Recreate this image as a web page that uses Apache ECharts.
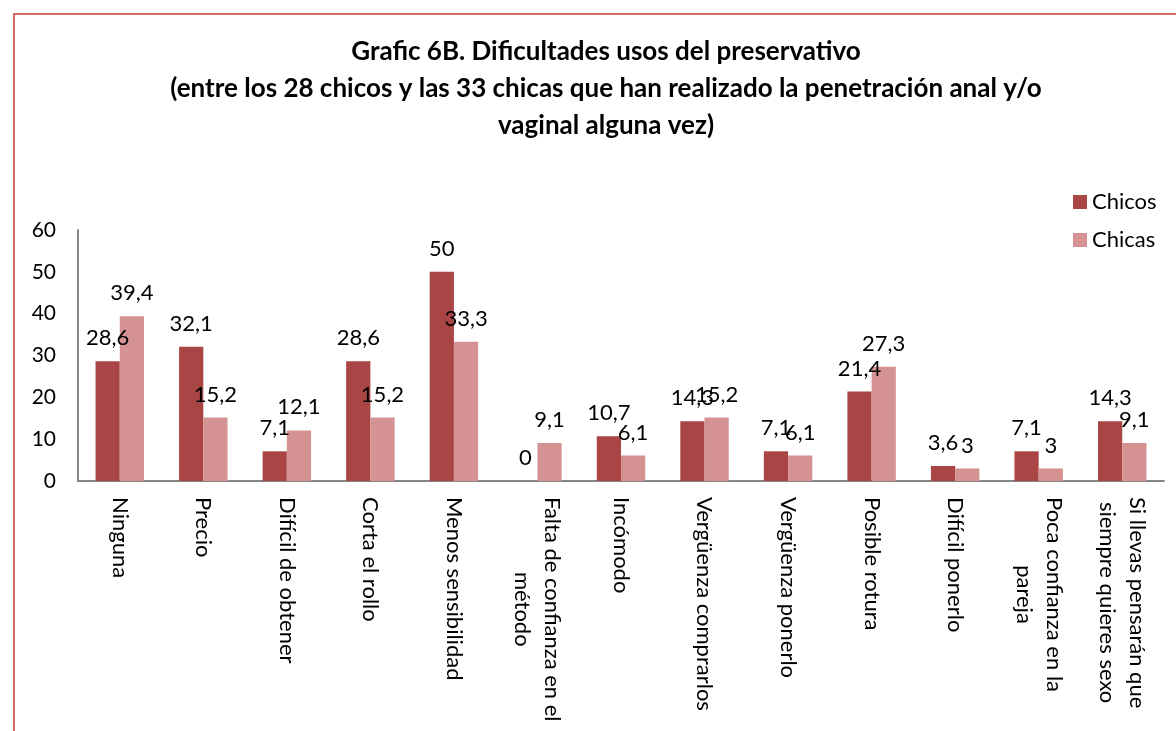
<!DOCTYPE html>
<html>
<head>
<meta charset="utf-8">
<style>
  html, body { margin: 0; padding: 0; background: #fff; }
  #chart { width: 1176px; height: 731px; }
</style>
<script src="https://cdn.jsdelivr.net/npm/echarts@6/dist/echarts.min.js"></script>
</head>
<body>
<div id="chart"></div>
<script>
const categories = [
  "Ninguna",
  "Precio",
  "Difícil de obtener",
  "Corta el rollo",
  "Menos sensibilidad",
  "Falta de confianza en el\nmétodo",
  "Incómodo",
  "Vergüenza comprarlos",
  "Vergüenza ponerlo",
  "Posible rotura",
  "Difícil ponerlo",
  "Poca confianza en la\npareja",
  "Si llevas pensarán que\nsiempre quieres sexo"
];
const chicos = [28.6, 32.1, 7.1, 28.6, 50, 0, 10.7, 14.3, 7.1, 21.4, 3.6, 7.1, 14.3];
const chicas = [39.4, 15.2, 12.1, 15.2, 33.3, 9.1, 6.1, 15.2, 6.1, 27.3, 3, 3, 9.1];
const yTicks = [0, 10, 20, 30, 40, 50, 60];

const FONT = "Lato";

const chart = echarts.init(document.getElementById("chart"));

// valores con coma decimal, como en el original
const commaLabel = p => String(p.value).replace(".", ",");

chart.setOption({
  animation: false,
  textStyle: { fontFamily: FONT },
  title: {
    text: "Grafic 6B. Dificultades usos del preservativo\n(entre los 28 chicos y las 33 chicas que han realizado la penetración anal y/o\nvaginal alguna vez)",
    left: 601,
    top: 28,
    textAlign: "center",
    textStyle: {
      fontFamily: FONT,
      fontWeight: "bold",
      fontSize: 26,
      lineHeight: 37,
      color: "#000"
    }
  },
  legend: {
    orient: "vertical",
    left: 1073,
    top: 191,
    padding: 0,
    itemWidth: 14,
    itemHeight: 14,
    itemGap: 16,
    icon: "rect",
    textStyle: { fontFamily: FONT, fontSize: 22, color: "#000" },
    data: ["Chicos", "Chicas"]
  },
  grid: { left: 78, right: 12, top: 230, bottom: 250 },
  xAxis: {
    type: "category",
    data: categories,
    axisLine: { lineStyle: { color: "#868686", width: 2 } },
    axisTick: { show: false },
    axisLabel: {
      interval: 0,
      rotate: -90,
      margin: 16,
      color: "#000",
      fontFamily: FONT,
      fontSize: 22,
      formatter: v => v.split("\n").map(s => "{c|" + s + "}").join("\n"),
      rich: {
        c: { align: "center", fontFamily: FONT, fontSize: 22, color: "#000", lineHeight: 30 }
      }
    }
  },
  yAxis: {
    type: "value",
    min: yTicks[0],
    max: yTicks[yTicks.length - 1],
    interval: 10,
    axisLine: { show: true, lineStyle: { color: "#868686", width: 2 } },
    axisTick: { show: false },
    splitLine: { show: false },
    axisLabel: { margin: 22, color: "#000", fontFamily: FONT, fontSize: 21 }
  },
  series: [
    {
      name: "Chicos",
      type: "bar",
      data: chicos,
      barGap: "0%",
      barCategoryGap: "42%",
      itemStyle: { color: "#A94545" },
      label: {
        show: true,
        position: "top",
        distance: 12,
        color: "#000",
        fontFamily: FONT,
        fontSize: 22,
        formatter: commaLabel
      }
    },
    {
      name: "Chicas",
      type: "bar",
      data: chicas,
      itemStyle: { color: "#D49292" },
      label: {
        show: true,
        position: "top",
        distance: 12,
        color: "#000",
        fontFamily: FONT,
        fontSize: 22,
        formatter: commaLabel
      }
    }
  ],
  graphic: [
    {
      type: "rect",
      silent: true,
      shape: { x: 14, y: 14, width: 1200, height: 760 },
      style: { fill: "none", stroke: "#D46A6A", lineWidth: 2 }
    }
  ]
});
</script>
</body>
</html>
